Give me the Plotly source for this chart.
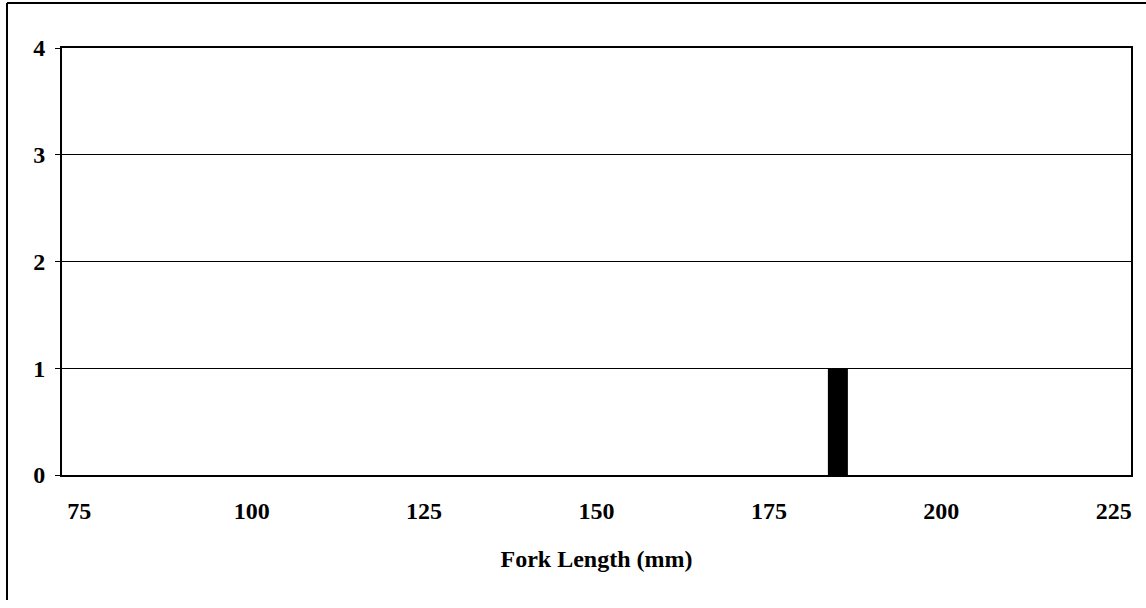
import plotly.graph_objects as go

fork_length = [185]
counts = [1]
x_ticks = [75, 100, 125, 150, 175, 200, 225]
y_ticks = [0, 1, 2, 3, 4]

W, H = 1146, 608
L, R, T, B = 62, 15, 48, 133
pw = W - L - R
ph = H - T - B

fig = go.Figure()
fig.add_trace(go.Bar(x=fork_length, y=counts, width=2.9,
                     marker=dict(color="black", line=dict(width=0))))

font = dict(family="Liberation Serif", size=24, color="black")
fig.update_layout(
    width=W, height=H,
    margin=dict(l=L, r=R, t=T, b=B),
    paper_bgcolor="white", plot_bgcolor="white",
    showlegend=False,
    font=font,
    xaxis=dict(range=[72.5, 227.5], tickvals=x_ticks,
               ticktext=[f"<b>{v}</b>" for v in x_ticks],
               showgrid=False, zeroline=False,
               showline=True, linecolor="black", linewidth=2, mirror=True,
               ticks="", ticklabelstandoff=13,
               title=dict(text="<b>Fork Length (mm)</b>", font=font, standoff=27)),
    yaxis=dict(range=[0, 4], tickvals=y_ticks,
               ticktext=[f"<b>{v}</b>" for v in y_ticks],
               showgrid=True, gridcolor="black", gridwidth=1, zeroline=False,
               showline=True, linecolor="black", linewidth=2, mirror=True,
               ticks="outside", ticklen=5, tickcolor="black",
               ticklabelstandoff=5),
)

# outer frame of the scanned chart
x_left = (7 - L) / pw
y_top = 1 + (T - 3) / ph
y_bot = (ph + T - 600) / ph
x_right = (W - L) / pw
fig.add_shape(type="line", xref="paper", yref="paper", x0=x_left, x1=x_left,
              y0=y_bot, y1=y_top, line=dict(color="black", width=2))
fig.add_shape(type="line", xref="paper", yref="paper", x0=x_left, x1=x_right,
              y0=y_top, y1=y_top, line=dict(color="black", width=2))

fig.write_html("out.html", config={"displayModeBar": False},
               post_script="document.body.style.margin='0';document.body.style.padding='0';")
